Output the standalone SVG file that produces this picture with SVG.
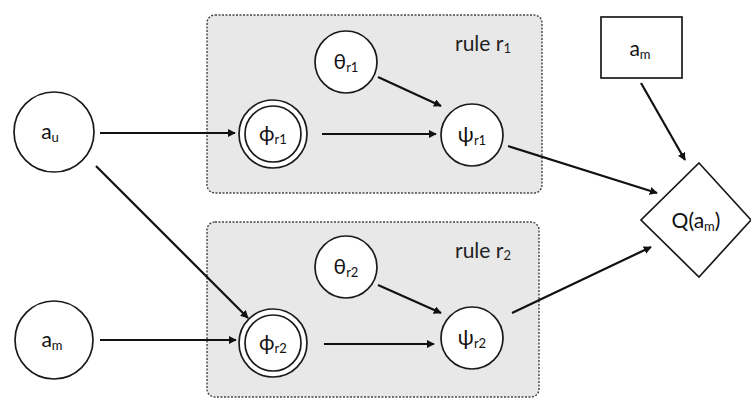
<svg xmlns="http://www.w3.org/2000/svg" width="751" height="401" viewBox="0 0 751 401">
<defs>
<marker id="ah" viewBox="0 0 10 10" refX="9" refY="5" markerWidth="8" markerHeight="8" orient="auto" markerUnits="userSpaceOnUse">
<path d="M0,0 L10,5 L0,10 z" fill="#111"/>
</marker>
<style>
.panel{fill:#e8e8e8;stroke:#444;stroke-width:1.4;stroke-dasharray:2 1.5}
.node{fill:#fff;stroke:#1a1a1a;stroke-width:1.7}
.edge{stroke:#111;stroke-width:2.2;fill:none;marker-end:url(#ah)}
.t{font-family:Lato,"Open Sans",sans-serif;font-size:21px;fill:#111;text-anchor:middle}
.s{font-size:13px}
.lbl{font-family:Lato,"Open Sans",sans-serif;font-size:21px;fill:#222}
</style>
</defs>
<rect width="751" height="401" fill="#fff"/>
<g id="rule1">
<rect class="panel" x="207" y="15" width="335" height="178" rx="8"/>
<text class="lbl" x="455" y="51">rule r<tspan class="s" dy="2">1</tspan></text>
</g>
<g id="rule2">
<rect class="panel" x="207" y="222" width="332" height="175" rx="8"/>
<text class="lbl" x="455" y="258">rule r<tspan class="s" dy="2">2</tspan></text>
</g>
<g id="connectors">
<line class="edge" x1="100" y1="133" x2="235" y2="133"/>
<line class="edge" x1="96" y1="166" x2="248" y2="318"/>
<line class="edge" x1="100" y1="340" x2="236" y2="340"/>
<line class="edge" x1="322" y1="134" x2="436" y2="134"/>
<line class="edge" x1="378" y1="77" x2="441" y2="106"/>
<line class="edge" x1="324" y1="344" x2="434" y2="344"/>
<line class="edge" x1="378" y1="285" x2="441" y2="313"/>
<line class="edge" x1="508" y1="146" x2="657" y2="193"/>
<line class="edge" x1="512" y1="313" x2="651" y2="247"/>
<line class="edge" x1="641" y1="83" x2="685" y2="160"/>
</g>
<g id="au">
<circle class="node" cx="54" cy="132" r="40"/>
<text class="t" x="50" y="139">a<tspan class="s" dy="3">u</tspan></text>
</g>
<g id="am">
<circle class="node" cx="54" cy="340" r="39"/>
<text class="t" x="52" y="347">a<tspan class="s" dy="3">m</tspan></text>
</g>
<g id="phi1">
<circle class="node" cx="273" cy="134" r="34"/>
<circle class="node" cx="273" cy="134" r="28"/>
<text class="t" x="273" y="141">ϕ<tspan class="s" dy="3">r1</tspan></text>
</g>
<g id="theta1">
<circle class="node" cx="346" cy="62" r="31"/>
<text class="t" x="346" y="69">θ<tspan class="s" dy="3">r1</tspan></text>
</g>
<g id="psi1">
<circle class="node" cx="472" cy="135" r="31"/>
<text class="t" x="472" y="142">ψ<tspan class="s" dy="3">r1</tspan></text>
</g>
<g id="phi2">
<circle class="node" cx="273" cy="343" r="34"/>
<circle class="node" cx="273" cy="343" r="28"/>
<text class="t" x="273" y="350">ϕ<tspan class="s" dy="3">r2</tspan></text>
</g>
<g id="theta2">
<circle class="node" cx="346" cy="267" r="31"/>
<text class="t" x="346" y="274">θ<tspan class="s" dy="3">r2</tspan></text>
</g>
<g id="psi2">
<circle class="node" cx="472" cy="338" r="31"/>
<text class="t" x="472" y="345">ψ<tspan class="s" dy="3">r2</tspan></text>
</g>
<g id="amBox">
<rect class="node" x="601" y="17" width="81" height="61"/>
<text class="t" x="640" y="56">a<tspan class="s" dy="3">m</tspan></text>
</g>
<g id="Q">
<polygon class="node" points="699,163 751,220 699,277 641,220"/>
<text class="t" x="696" y="228">Q(a<tspan class="s" dy="3">m</tspan><tspan dy="-3">)</tspan></text>
</g>
</svg>
